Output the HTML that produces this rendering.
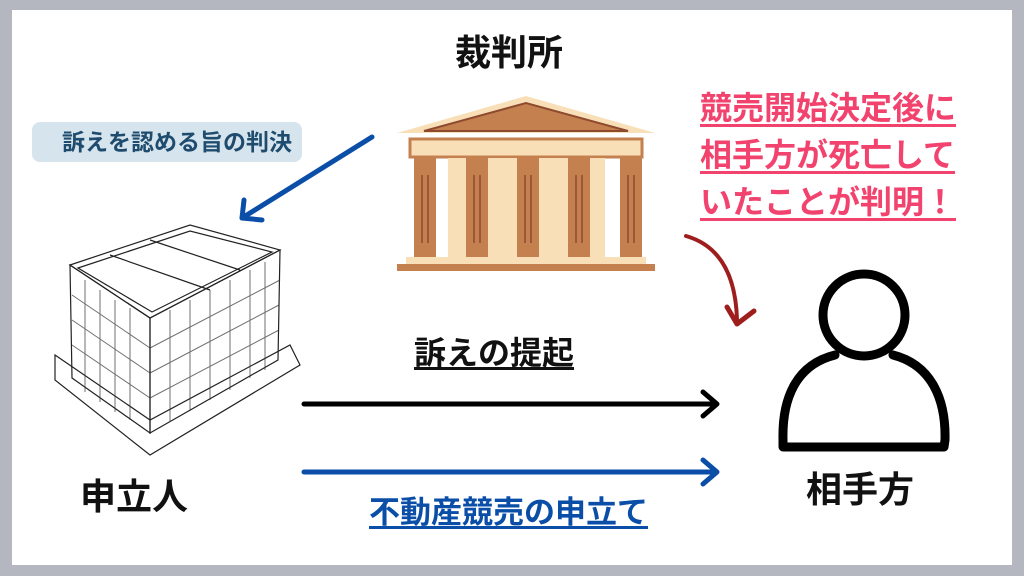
<!DOCTYPE html>
<html><head><meta charset="utf-8"><style>
body{margin:0;width:1024px;height:576px;background:#b4b7bf;position:relative;overflow:hidden;font-family:"Liberation Sans","Noto Sans CJK JP",sans-serif;}
#c{position:absolute;left:12px;top:10px;width:1000px;height:555px;background:#fff;}
.t{position:absolute;font-weight:bold;white-space:nowrap;line-height:1;}
</style></head><body><div id="c"></div>
<svg width="1024" height="576" style="position:absolute;left:0;top:0">
<polygon points="397,133 526,96 655,133" fill="#f8dfb7"/>
<polygon points="424,131 526,103 628,131" fill="#c4814f" stroke="#8e4a2e" stroke-width="2"/>
<rect x="410" y="139" width="232" height="18" fill="#f8dfb7" stroke="#c4814f" stroke-width="3"/>
<rect x="448" y="158" width="157" height="100" fill="#f8dfb7"/>
<g fill="#c4814f">
<rect x="414" y="158" width="22" height="100"/><rect x="466" y="158" width="22" height="100"/><rect x="517" y="158" width="22" height="100"/><rect x="568" y="158" width="22" height="100"/><rect x="620" y="158" width="22" height="100"/>
</g>
<rect x="406" y="257" width="240" height="7" fill="#f8dfb7"/>
<rect x="397" y="264" width="258" height="7" fill="#c4814f"/>
<g stroke="#8e4a2e" stroke-width="1.5">
<line x1="422" y1="175" x2="422" y2="243"/><line x1="428" y1="175" x2="428" y2="243"/>
<line x1="474" y1="175" x2="474" y2="243"/><line x1="480" y1="175" x2="480" y2="243"/>
<line x1="525" y1="175" x2="525" y2="243"/><line x1="531" y1="175" x2="531" y2="243"/>
<line x1="576" y1="175" x2="576" y2="243"/><line x1="582" y1="175" x2="582" y2="243"/>
<line x1="628" y1="175" x2="628" y2="243"/><line x1="634" y1="175" x2="634" y2="243"/>
</g>
<g fill="none" stroke="#222" stroke-width="1.2">
<polygon points="70,265 190,225 280,250 150,318"/>
<polygon points="78,268 190,231 272,252 152,312"/>
<polygon points="70,265 150,318 150,433 72,378"/>
<polygon points="150,318 280,250 278,360 150,433"/>
<polygon points="55,355 150,420 290,345 300,365 150,455 55,380"/>
<line x1="110" y1="255" x2="210" y2="290"/><line x1="150" y1="240" x2="240" y2="270"/>
</g>
<g stroke="#333" stroke-width="1" opacity="0.7">
<line x1="85" y1="280" x2="85" y2="392"/><line x1="100" y1="290" x2="100" y2="402"/><line x1="115" y1="300" x2="115" y2="412"/><line x1="130" y1="308" x2="130" y2="420"/>
<line x1="170" y1="310" x2="170" y2="422"/><line x1="190" y1="300" x2="190" y2="410"/><line x1="210" y1="290" x2="210" y2="400"/><line x1="230" y1="280" x2="230" y2="390"/><line x1="250" y1="270" x2="250" y2="378"/><line x1="265" y1="262" x2="265" y2="370"/>
<line x1="72" y1="295" x2="150" y2="348"/><line x1="72" y1="320" x2="150" y2="373"/><line x1="72" y1="345" x2="150" y2="398"/>
<line x1="150" y1="348" x2="280" y2="280"/><line x1="150" y1="373" x2="279" y2="305"/><line x1="150" y1="398" x2="279" y2="330"/>
</g>
<g stroke-linecap="round" stroke-linejoin="round" fill="none">
<line x1="372" y1="137" x2="242" y2="218" stroke="#0a4ea8" stroke-width="5"/>
<polyline points="244,200 242,218 262,220" stroke="#0a4ea8" stroke-width="5"/>
<line x1="304" y1="404" x2="716" y2="404" stroke="#000" stroke-width="5"/>
<polyline points="703,392 717,404 703,416" stroke="#000" stroke-width="5"/>
<line x1="304" y1="472" x2="716" y2="472" stroke="#0a4ea8" stroke-width="5"/>
<polyline points="703,460 717,472 703,484" stroke="#0a4ea8" stroke-width="5"/>
<path d="M686,236 Q735,250 737,320" stroke="#9e1e1e" stroke-width="4"/>
<polyline points="727,307 737,324 754,311" stroke="#9e1e1e" stroke-width="5"/>
<circle cx="864" cy="315" r="41" stroke="#000" stroke-width="9"/>
<path d="M835,355 C795,365 782,400 783,440 L783,447 L944,447 L945,440 C946,400 932,365 893,355" stroke="#000" stroke-width="9"/>
</g>
</svg>
<div style="position:absolute;left:32px;top:122px;width:270px;height:40px;background:#d6e4ed;border-radius:8px"></div>
<div class="t" style="left:62px;top:131px;font-size:23px;color:#1f4c6e">訴えを認める旨の判決</div>
<div class="t" style="left:455px;top:35px;font-size:36px;color:#111">裁判所</div>
<div class="t" style="left:700px;top:85px;font-size:32px;line-height:47px;color:#f2436e;text-decoration:underline;text-underline-offset:5px">競売開始決定後に<br>相手方が死亡して<br>いたことが判明！</div>
<div class="t" style="left:414px;top:337px;font-size:32px;color:#111;text-decoration:underline;text-underline-offset:3px">訴えの提起</div>
<div class="t" style="left:369px;top:497px;font-size:31px;color:#0a4ea8;text-decoration:underline;text-underline-offset:3px">不動産競売の申立て</div>
<div class="t" style="left:80px;top:479px;font-size:36px;color:#111">申立人</div>
<div class="t" style="left:806px;top:472px;font-size:36px;color:#111">相手方</div>
</body></html>
